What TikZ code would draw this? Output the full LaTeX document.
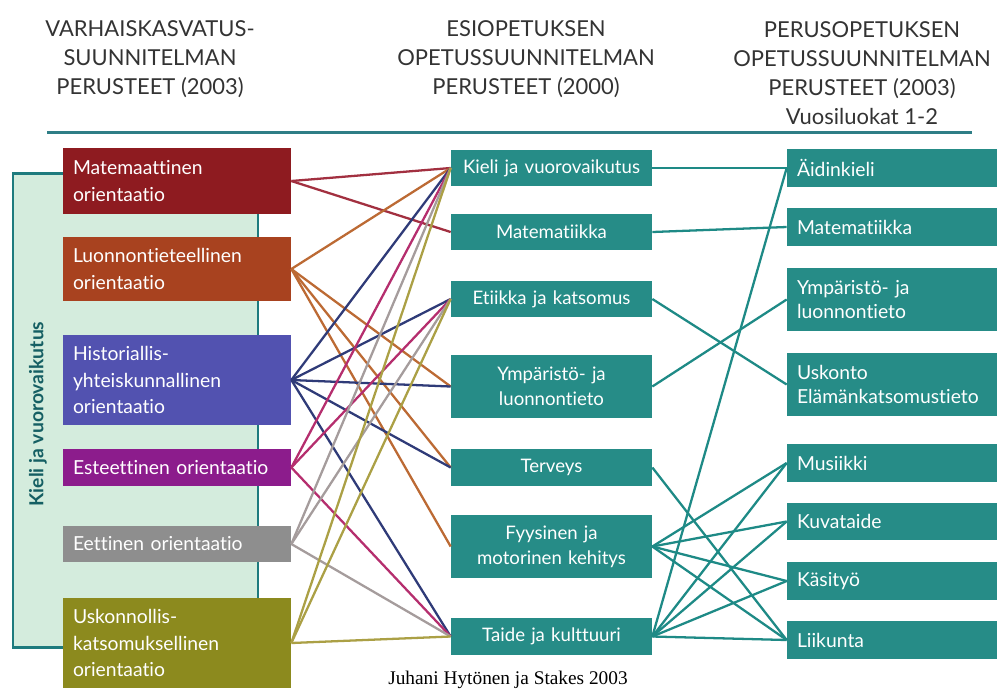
\documentclass[tikz,border=0pt]{standalone}
\usepackage{fontspec}
\setmainfont{Lato}[Ligatures=NoCommon]
\setsansfont{Lato}[Ligatures=NoCommon]
\newfontfamily\creditfont{Liberation Serif}
\usetikzlibrary{positioning}
\definecolor{HeadInk}{HTML}{333333}
\definecolor{RuleTeal}{HTML}{2E7E86}
\definecolor{PanelFill}{HTML}{D4ECDD}
\definecolor{PanelLine}{HTML}{1E7B7E}
\definecolor{LabelTeal}{HTML}{155F63}
\definecolor{BoxTeal}{HTML}{268C87}
\definecolor{LinkTeal}{HTML}{1E8A86}
\definecolor{OriMat}{HTML}{8E1B20}
\definecolor{OriLuo}{HTML}{A8421F}
\definecolor{OriHis}{HTML}{5252B0}
\definecolor{OriEst}{HTML}{8C1C8C}
\definecolor{OriEet}{HTML}{8E8E8E}
\definecolor{OriUsk}{HTML}{8C8A1E}
\definecolor{LnMat}{HTML}{A23040}
\definecolor{LnLuo}{HTML}{BC6A34}
\definecolor{LnHis}{HTML}{2F3B78}
\definecolor{LnEst}{HTML}{B52E6E}
\definecolor{LnEet}{HTML}{A59C9C}
\definecolor{LnUsk}{HTML}{ABA045}
\tikzset{
  every node/.style={font=\sffamily, text=white},
  title/.style={text=HeadInk, align=center, font=\sffamily\fontsize{12.5}{16.4}\selectfont},
  panel/.style={draw=PanelLine, fill=PanelFill, line width=1.7pt},
  vlabel/.style={text=LabelTeal, font=\sffamily\bfseries\fontsize{11}{13}\selectfont},
  orient/.style={text width=4.16cm, inner xsep=0.2cm, inner ysep=0pt, align=left,
    font=\sffamily\fontsize{11}{15}\selectfont},
  subject/.style={fill=BoxTeal, text width=3.86cm, inner xsep=0.08cm, inner ysep=0pt,
    align=center, minimum height=0.73cm, font=\sffamily\fontsize{10.6}{14}\selectfont},
  grade/.style={fill=BoxTeal, text width=3.8cm, inner xsep=0.2cm, inner ysep=0pt,
    align=left, minimum height=0.75cm, font=\sffamily\fontsize{11}{14}\selectfont},
  link/.style={line width=1.3pt},
  tlink/.style={draw=LinkTeal, line width=1.3pt},
}
\begin{document}
\begin{tikzpicture}[x=0.02cm, y=-0.02cm]
  \useasboundingbox (0,0) rectangle (1000,691);
  % Column titles
  \node[title] (h1) at (150,59) {VARHAISKASVATUS-\\SUUNNITELMAN\\PERUSTEET (2003)};
  \node[title] (h2) at (526,59) {ESIOPETUKSEN\\OPETUSSUUNNITELMAN\\PERUSTEET (2000)};
  \node[title] (h3) at (862,73) {PERUSOPETUKSEN\\OPETUSSUUNNITELMAN\\PERUSTEET (2003)\\Vuosiluokat 1-2};
  \draw[RuleTeal, line width=1.7pt] (47,132) -- (972,132);
  % Backdrop of the left column
  \draw[panel] (13,173) rectangle (258,647);
  \node[vlabel, rotate=90] (kv) at (38,414) {Kieli ja vuorovaikutus};
  % Left column: orientations
  \node[orient, fill=OriMat, minimum height=1.32cm] (mat) at (177,181) {Matemaattinen\\orientaatio};
  \node[orient, fill=OriLuo, minimum height=1.28cm] (luo) at (177,269) {Luonnontieteellinen\\orientaatio};
  \node[orient, fill=OriHis, minimum height=1.8cm] (his) at (177,380) {Historiallis-\\yhteiskunnallinen\\orientaatio};
  \node[orient, fill=OriEst, minimum height=0.74cm] (est) at (177,467.5) {Esteettinen orientaatio};
  \node[orient, fill=OriEet, minimum height=0.72cm] (eet) at (177,544) {Eettinen orientaatio};
  \node[orient, fill=OriUsk, minimum height=1.8cm] (usk) at (177,643) {Uskonnollis-\\katsomuksellinen\\orientaatio};
  % Middle column: pre-school
  \node[subject] (kieli) at (551.5,168) {Kieli ja vuorovaikutus};
  \node[subject] (mate) at (551.5,232) {Matematiikka};
  \node[subject] (etiik) at (551.5,299) {Etiikka ja katsomus};
  \node[subject, minimum height=1.26cm] (ymp) at (551.5,386.5) {Ympäristö- ja\\luonnontieto};
  \node[subject] (terv) at (551.5,467.5) {Terveys};
  \node[subject, minimum height=1.26cm] (fyys) at (551.5,546.5) {Fyysinen ja\\motorinen kehitys};
  \node[subject] (taide) at (551.5,636.5) {Taide ja kulttuuri};
  % Right column: grades 1-2
  \node[grade] (aid) at (892,168) {Äidinkieli};
  \node[grade] (mat2) at (892,227) {Matematiikka};
  \node[grade, minimum height=1.26cm] (ympr) at (892,299.5) {Ympäristö- ja\\luonnontieto};
  \node[grade, minimum height=1.26cm] (usko) at (892,384.5) {Uskonto\\Elämänkatsomustieto};
  \node[grade] (mus) at (892,463) {Musiikki};
  \node[grade] (kuv) at (892,521.5) {Kuvataide};
  \node[grade] (kas) at (892,581) {Käsityö};
  \node[grade] (lii) at (892,640) {Liikunta};
  % Links: orientations to pre-school
  \foreach \t in {kieli,mate} \draw[link, LnMat] (mat.east) -- (\t.west);
  \foreach \t in {kieli,ymp,terv,fyys} \draw[link, LnLuo] (luo.east) -- (\t.west);
  \foreach \t in {kieli,etiik,ymp,terv,taide} \draw[link, LnHis] (his.east) -- (\t.west);
  \foreach \t in {kieli,etiik,taide} \draw[link, LnEst] (est.east) -- (\t.west);
  \foreach \t in {kieli,etiik,taide} \draw[link, LnEet] (eet.east) -- (\t.west);
  \foreach \t in {kieli,etiik,taide} \draw[link, LnUsk] (usk.east) -- (\t.west);
  % Links: pre-school to grades 1-2
  \foreach \a/\b in {kieli/aid, mate/mat2, etiik/usko, ymp/ympr, terv/lii,
      fyys/mus, fyys/kuv, fyys/kas, fyys/lii,
      taide/aid, taide/mus, taide/kuv, taide/kas, taide/lii}
    \draw[tlink] (\a.east) -- (\b.west);
  \node[text=black, font=\creditfont\fontsize{11}{13}\selectfont] (credit) at (508,680) {Juhani Hytönen ja Stakes 2003};
\end{tikzpicture}
\end{document}
